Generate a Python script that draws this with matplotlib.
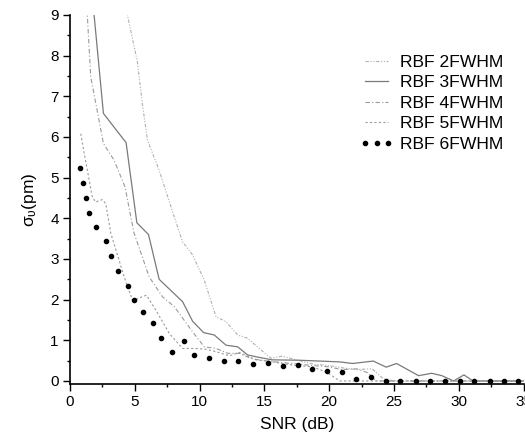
import matplotlib
matplotlib.use("Agg")
import matplotlib.pyplot as plt
from matplotlib.ticker import MultipleLocator

plt.rcParams['font.family'] = ['Liberation Sans', 'DejaVu Sans']
plt.rcParams['mathtext.fontset'] = 'custom'
plt.rcParams['mathtext.rm'] = 'Liberation Sans'
plt.rcParams['mathtext.it'] = 'Liberation Sans'

# RBF 2FWHM
x2 = [4.1, 5.2, 5.6, 5.98, 6.88, 8.04, 8.69, 9.46, 10.36, 11.27, 12.04, 12.94, 13.71,
      14.6, 15.5, 16.4, 17.45, 18.7, 19.9, 21.1, 22.1, 23.3, 24.2, 25.0, 35.0]
y2 = [9.5, 7.85, 6.78, 5.92, 5.18, 4.04, 3.42, 3.1, 2.48, 1.58, 1.46, 1.13, 1.05,
      0.8, 0.56, 0.61, 0.52, 0.42, 0.38, 0.32, 0.28, 0.3, 0.05, 0.0, 0.0]
# RBF 3FWHM
x3 = [1.72, 2.58, 4.33, 5.16, 6.06, 6.88, 8.69, 9.46, 10.31, 11.14, 12.04, 12.94, 13.71,
      14.6, 15.6, 17.7, 20.8, 21.8, 23.4, 24.4, 25.2, 26.9, 27.9, 28.7, 29.6, 30.4, 31.1, 35.0]
y3 = [9.47, 6.58, 5.86, 3.89, 3.6, 2.5, 1.95, 1.47, 1.19, 1.13, 0.88, 0.84, 0.64,
      0.58, 0.52, 0.51, 0.47, 0.43, 0.49, 0.34, 0.43, 0.13, 0.19, 0.13, 0.0, 0.15, 0.0, 0.0]
# RBF 4FWHM
x4 = [1.25, 1.6, 2.58, 3.4, 4.25, 4.69, 4.95, 6.11, 7.14, 8.04, 9.46, 10.36, 11.27,
      12.17, 13.07, 14.0, 15.0, 16.4, 17.5, 18.7, 19.9, 21.0, 22.1, 23.0, 23.6, 35.0]
y4 = [9.5, 7.48, 5.84, 5.43, 4.77, 4.04, 3.63, 2.56, 2.07, 1.83, 1.21, 0.84, 0.8,
      0.68, 0.68, 0.55, 0.5, 0.45, 0.42, 0.38, 0.35, 0.28, 0.3, 0.2, 0.0, 0.0]
# RBF 5FWHM
x5 = [0.83, 1.08, 1.72, 1.98, 2.5, 2.76, 3.15, 3.79, 4.18, 4.82, 5.03, 5.9, 6.63, 7.66,
      8.69, 9.59, 10.5, 11.27, 12.3, 13.07, 14.36, 15.5, 16.5, 17.5, 18.7, 19.9, 20.8, 35.0]
y5 = [6.08, 5.63, 4.53, 4.4, 4.46, 4.36, 3.63, 2.97, 2.56, 1.99, 2.0, 2.11, 1.74, 1.17,
      0.8, 0.8, 0.78, 0.72, 0.62, 0.7, 0.52, 0.48, 0.42, 0.38, 0.35, 0.2, 0.0, 0.0]
# RBF 6FWHM
x6 = [0.77, 1.03, 1.26, 1.5, 1.98, 2.76, 3.17, 3.74, 4.51, 4.92, 5.6, 6.42, 7.01, 7.84,
      8.76, 9.59, 10.72, 11.86, 13.0, 14.15, 15.3, 16.4, 17.56, 18.7, 19.85, 21.0, 22.1,
      23.25, 24.4, 25.5, 26.7, 27.8, 28.9, 30.1, 31.2, 32.4, 33.5, 34.6]
y6 = [5.23, 4.86, 4.5, 4.14, 3.78, 3.43, 3.07, 2.71, 2.34, 1.98, 1.70, 1.42, 1.06, 0.72,
      0.98, 0.64, 0.57, 0.48, 0.48, 0.42, 0.43, 0.38, 0.39, 0.29, 0.25, 0.21, 0.05,
      0.11, 0.0, 0.0, 0.0, 0.0, 0.0, 0.0, 0.0, 0.0, 0.0, 0.0]

labels = ['RBF 2FWHM', 'RBF 3FWHM', 'RBF 4FWHM', 'RBF 5FWHM', 'RBF 6FWHM']

fig = plt.figure(figsize=(5.25, 4.43), dpi=100)
ax = fig.add_axes([0.1333, 0.1332, 0.864, 0.833])

ax.plot(x2, y2, color='#b0b0b0', lw=0.8, ls=(0, (3, 1.5, 1, 1.5, 1, 1.5)), label=labels[0])
ax.plot(x3, y3, color='#7a7a7a', lw=0.9, ls='-', label=labels[1])
ax.plot(x4, y4, color='#9a9a9a', lw=0.8, ls=(0, (4, 2, 1, 2)), label=labels[2])
ax.plot(x5, y5, color='#9a9a9a', lw=0.8, ls=(0, (2, 2)), label=labels[3])
ax.plot(x6, y6, color='black', ls='none', marker='o', ms=3.0, label=labels[4])

ax.set_xlim(0, 35)
ax.set_ylim(-0.074, 9)
ax.xaxis.set_major_locator(MultipleLocator(5))
ax.xaxis.set_minor_locator(MultipleLocator(2.5))
ax.yaxis.set_major_locator(MultipleLocator(1))
ax.yaxis.set_minor_locator(MultipleLocator(0.5))
ax.spines['top'].set_visible(False)
ax.spines['right'].set_visible(False)
for s in ('left', 'bottom'):
    ax.spines[s].set_linewidth(1.2)
ax.tick_params(which='major', direction='out', length=5, width=1.0, labelsize=11, pad=3)
ax.tick_params(which='minor', direction='out', length=2.5, width=1.0)

ax.set_xlabel('SNR (dB)', fontsize=12.5, labelpad=6)
ax.set_ylabel(r'$\sigma_{\upsilon}$(pm)', fontsize=12.5, labelpad=8)

ax.legend(loc='upper left', bbox_to_anchor=(0.686, 0.877), bbox_transform=fig.transFigure,
          frameon=False, fontsize=12.6, handlelength=1.9, handletextpad=0.4,
          labelspacing=0.3, numpoints=3, borderpad=0, borderaxespad=0)

fig.savefig('out.png', dpi=100)
